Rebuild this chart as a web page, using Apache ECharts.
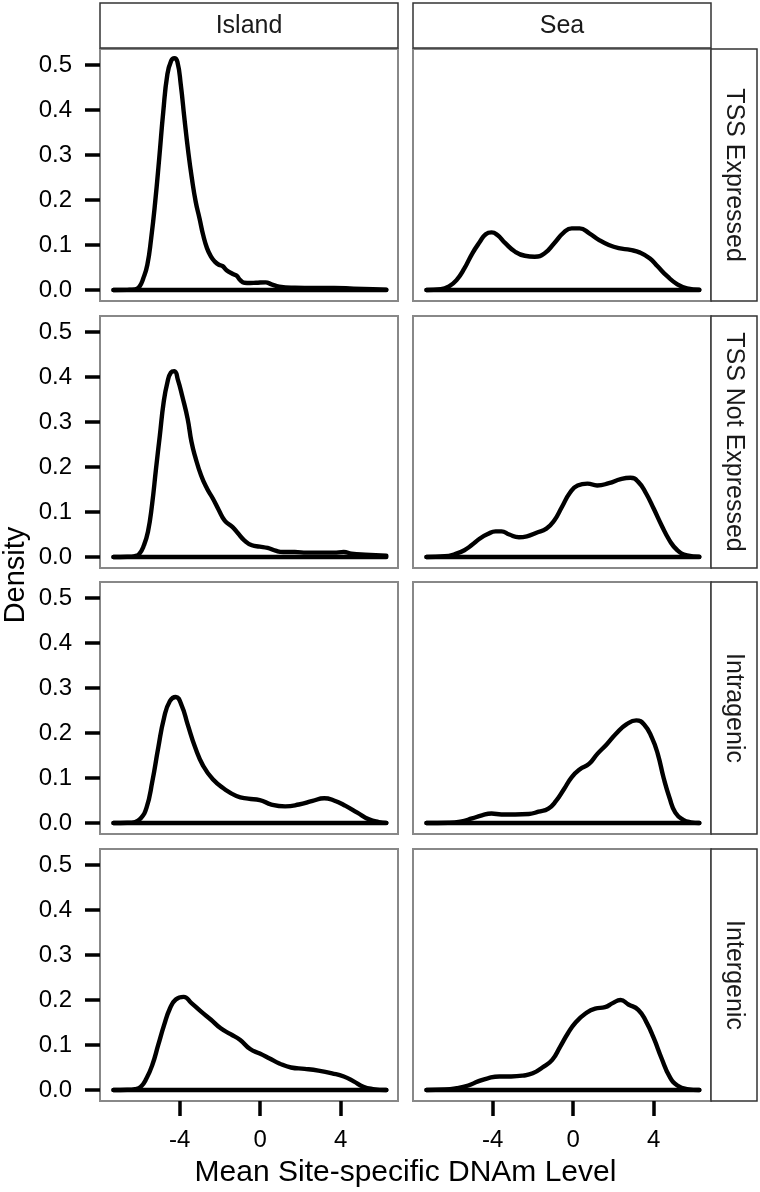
<!DOCTYPE html>
<html>
<head>
<meta charset="utf-8">
<script src="https://cdn.jsdelivr.net/npm/echarts@6/dist/echarts.min.js"></script>
<style>
html,body{margin:0;padding:0;background:#fff;}
#chart{width:760px;height:1192px;}
</style>
</head>
<body>
<div id="chart"></div>
<script>
// ---- data ----
const columnLabels = ['Island', 'Sea'];
const rowLabels = ['TSS Expressed', 'TSS Not Expressed', 'Intragenic', 'Intergenic'];
const xTickValues = [-4, 0, 4];
const yTickValues = [0, 0.1, 0.2, 0.3, 0.4, 0.5];
const xTitle = 'Mean Site-specific DNAm Level';
const yTitle = 'Density';
const densityRange = [-7.28, 6.26];

const islandTssExpressed = [[-7.28,0],[-6.6,0.0003],[-6.22,0.001],[-6.0,0.007],[-5.8,0.026],[-5.6,0.056],[-5.41,0.115],[-5.21,0.196],[-5.01,0.293],[-4.81,0.396],[-4.61,0.478],[-4.42,0.509],[-4.26,0.515],[-4.11,0.507],[-3.94,0.456],[-3.76,0.381],[-3.57,0.307],[-3.39,0.248],[-3.2,0.196],[-3.01,0.159],[-2.83,0.122],[-2.64,0.093],[-2.44,0.074],[-2.25,0.063],[-2.05,0.056],[-1.86,0.053],[-1.67,0.044],[-1.38,0.036],[-1.18,0.032],[-0.99,0.022],[-0.79,0.016],[-0.5,0.0155],[-0.21,0.016],[0.27,0.017],[0.56,0.0126],[0.95,0.0074],[1.72,0.005],[2.7,0.0044],[3.67,0.0044],[4.64,0.003],[5.6,0.0015],[6.26,0.0005]];
const seaTssExpressed = [[-7.28,0],[-6.57,0.0015],[-6.18,0.0074],[-5.79,0.022],[-5.4,0.048],[-5.01,0.081],[-4.63,0.107],[-4.34,0.124],[-4.05,0.128],[-3.76,0.122],[-3.37,0.104],[-2.88,0.085],[-2.4,0.076],[-1.91,0.074],[-1.43,0.081],[-0.94,0.104],[-0.46,0.128],[-0.07,0.137],[0.32,0.137],[0.8,0.126],[1.29,0.111],[1.77,0.1],[2.26,0.093],[2.84,0.089],[3.32,0.083],[3.81,0.07],[4.2,0.052],[4.68,0.03],[5.17,0.0126],[5.65,0.0037],[6.26,0.0005]];
const islandTssNotExpressed = [[-7.28,0],[-6.6,0.0005],[-6.22,0.002],[-6.0,0.007],[-5.77,0.026],[-5.57,0.056],[-5.37,0.115],[-5.17,0.196],[-4.98,0.27],[-4.79,0.344],[-4.6,0.389],[-4.43,0.41],[-4.26,0.413],[-4.08,0.393],[-3.86,0.356],[-3.6,0.307],[-3.41,0.256],[-3.22,0.222],[-2.93,0.181],[-2.64,0.152],[-2.35,0.13],[-2.05,0.104],[-1.76,0.081],[-1.38,0.067],[-1.09,0.052],[-0.79,0.037],[-0.41,0.026],[-0.02,0.023],[0.37,0.02],[0.76,0.014],[1.14,0.011],[1.72,0.011],[2.31,0.0096],[2.98,0.0096],[3.66,0.0096],[4.15,0.011],[4.53,0.0074],[5.21,0.005],[6.26,0.003]];
const seaTssNotExpressed = [[-7.28,0],[-6.37,0.0015],[-5.89,0.006],[-5.4,0.015],[-5.02,0.027],[-4.63,0.041],[-4.24,0.051],[-3.85,0.057],[-3.56,0.057],[-3.17,0.05],[-2.69,0.044],[-2.3,0.046],[-1.82,0.054],[-1.33,0.063],[-0.94,0.081],[-0.56,0.111],[-0.17,0.142],[0.22,0.159],[0.71,0.163],[1.19,0.159],[1.77,0.164],[2.36,0.173],[2.84,0.176],[3.23,0.167],[3.62,0.141],[4.0,0.107],[4.39,0.07],[4.78,0.037],[5.17,0.015],[5.65,0.0037],[6.26,0.0007]];
const islandIntragenic = [[-7.28,0],[-6.6,0.0005],[-6.22,0.002],[-5.93,0.01],[-5.64,0.034],[-5.35,0.093],[-5.06,0.167],[-4.77,0.234],[-4.48,0.271],[-4.19,0.28],[-3.89,0.26],[-3.6,0.219],[-3.22,0.167],[-2.83,0.127],[-2.35,0.097],[-1.76,0.075],[-1.18,0.06],[-0.6,0.054],[-0.02,0.051],[0.56,0.041],[1.24,0.037],[1.92,0.041],[2.6,0.049],[3.18,0.055],[3.66,0.05],[4.24,0.038],[4.82,0.023],[5.4,0.008],[5.89,0.002],[6.26,0.0003]];
const seaIntragenic = [[-7.28,0],[-6.18,0.0005],[-5.6,0.003],[-5.02,0.01],[-4.53,0.017],[-4.05,0.021],[-3.56,0.019],[-2.88,0.019],[-2.2,0.02],[-1.72,0.025],[-1.23,0.032],[-0.85,0.049],[-0.46,0.075],[-0.07,0.102],[0.32,0.119],[0.8,0.132],[1.19,0.153],[1.67,0.175],[2.16,0.2],[2.64,0.219],[3.13,0.228],[3.52,0.219],[3.91,0.189],[4.2,0.153],[4.49,0.1],[4.78,0.056],[5.07,0.023],[5.46,0.007],[5.84,0.0015],[6.26,0]];
const islandIntergenic = [[-7.28,0],[-6.6,0.0005],[-6.22,0.002],[-5.93,0.007],[-5.64,0.026],[-5.35,0.056],[-5.06,0.1],[-4.77,0.144],[-4.48,0.181],[-4.19,0.201],[-3.8,0.207],[-3.41,0.193],[-2.93,0.174],[-2.44,0.156],[-1.96,0.137],[-1.47,0.124],[-0.99,0.111],[-0.5,0.091],[-0.02,0.081],[0.47,0.07],[0.95,0.059],[1.53,0.05],[2.21,0.047],[2.89,0.043],[3.57,0.037],[4.15,0.03],[4.64,0.019],[5.12,0.007],[5.6,0.002],[6.26,0]];
const seaIntergenic = [[-7.28,0],[-6.37,0.001],[-5.79,0.004],[-5.21,0.01],[-4.72,0.019],[-4.24,0.026],[-3.66,0.03],[-3.08,0.03],[-2.49,0.032],[-2.01,0.037],[-1.53,0.05],[-1.04,0.067],[-0.65,0.096],[-0.26,0.126],[0.12,0.15],[0.61,0.17],[1.09,0.181],[1.58,0.184],[1.96,0.193],[2.35,0.2],[2.74,0.19],[3.23,0.178],[3.62,0.152],[4.0,0.115],[4.39,0.07],[4.78,0.03],[5.17,0.01],[5.65,0.002],[6.26,0]];

const panelData = [
  [islandTssExpressed, seaTssExpressed],
  [islandTssNotExpressed, seaTssNotExpressed],
  [islandIntragenic, seaIntragenic],
  [islandIntergenic, seaIntergenic]
];

// ---- layout ----
const FONT = 'Liberation Sans, Arial, Helvetica, sans-serif';
const colLeft = [100, 413];
const panelW = 298;
const rowTop = [49, 316, 582, 849];
const panelH = 252;
const stripTop = 3, stripH = 45;
const rStripX = 711, rStripW = 46;

const grids = [], xAxes = [], yAxes = [], series = [], graphics = [];
let gi = 0;
for (let r = 0; r < 4; r++) {
  for (let c = 0; c < 2; c++) {
    grids.push({
      left: colLeft[c], top: rowTop[r], width: panelW, height: panelH,
      show: true, borderColor: '#888', borderWidth: 2, backgroundColor: '#fff'
    });
    const bottom = r === 3;
    const leftCol = c === 0;
    xAxes.push({
      type: 'value', gridIndex: gi, min: -7.95, max: 6.84, position: 'bottom',
      axisLine: { show: false, onZero: false },
      splitLine: { show: false },
      axisTick: { show: bottom, length: 15, inside: false, customValues: xTickValues,
        lineStyle: { color: '#000', width: 3.5 } },
      axisLabel: { show: bottom, customValues: xTickValues, margin: 27,
        fontSize: 24, color: '#000', fontFamily: FONT,
        formatter: v => String(v) }
    });
    yAxes.push({
      type: 'value', gridIndex: gi, min: -0.0245, max: 0.5355, position: 'left',
      axisLine: { show: false, onZero: false },
      splitLine: { show: false },
      axisTick: { show: leftCol, length: 15, inside: false, customValues: yTickValues,
        lineStyle: { color: '#000', width: 3.5 } },
      axisLabel: { show: leftCol, customValues: yTickValues, margin: 28,
        fontSize: 24, color: '#000', fontFamily: FONT,
        formatter: v => v.toFixed(1) }
    });
    series.push({
      type: 'line', xAxisIndex: gi, yAxisIndex: gi,
      data: [[densityRange[0], 0], [densityRange[1], 0]],
      showSymbol: false, silent: true,
      lineStyle: { color: '#000', width: 4.4, cap: 'round' }
    });
    series.push({
      type: 'line', xAxisIndex: gi, yAxisIndex: gi,
      data: panelData[r][c],
      smooth: 0.5,
      showSymbol: false, silent: true,
      lineStyle: { color: '#000', width: 4.4, cap: 'round', join: 'round' }
    });
    gi++;
  }
}

// top strips
for (let c = 0; c < 2; c++) {
  graphics.push({
    type: 'rect', shape: { x: colLeft[c], y: stripTop, width: panelW, height: stripH },
    style: { fill: '#fff', stroke: '#333', lineWidth: 1.5 }, z: 10
  });
  graphics.push({
    type: 'text', x: colLeft[c] + panelW / 2, y: stripTop + stripH / 2 + 1,
    style: { text: columnLabels[c], fontSize: 25, fontFamily: FONT, fill: '#1a1a1a',
      align: 'center', verticalAlign: 'middle' }, z: 11
  });
}
// right strips
for (let r = 0; r < 4; r++) {
  graphics.push({
    type: 'rect', shape: { x: rStripX, y: rowTop[r], width: rStripW, height: panelH },
    style: { fill: '#fff', stroke: '#333', lineWidth: 1.5 }, z: 10
  });
  graphics.push({
    type: 'text', x: rStripX + rStripW / 2, y: rowTop[r] + panelH / 2,
    rotation: -Math.PI / 2,
    style: { text: rowLabels[r], fontSize: 25, fontFamily: FONT, fill: '#1a1a1a',
      align: 'center', verticalAlign: 'middle' }, z: 11
  });
}
// axis titles
graphics.push({
  type: 'text', x: 405.5, y: 1173,
  style: { text: xTitle, fontSize: 30, fontFamily: FONT, fill: '#000',
    align: 'center', verticalAlign: 'middle' }
});
graphics.push({
  type: 'text', x: 16, y: 575, rotation: Math.PI / 2,
  style: { text: yTitle, fontSize: 29, fontFamily: FONT, fill: '#000',
    align: 'center', verticalAlign: 'middle' }
});

const chart = echarts.init(document.getElementById('chart'), null, { renderer: 'canvas' });
chart.setOption({
  animation: false,
  backgroundColor: '#fff',
  grid: grids,
  xAxis: xAxes,
  yAxis: yAxes,
  series: series,
  graphic: graphics
});
</script>
</body>
</html>
